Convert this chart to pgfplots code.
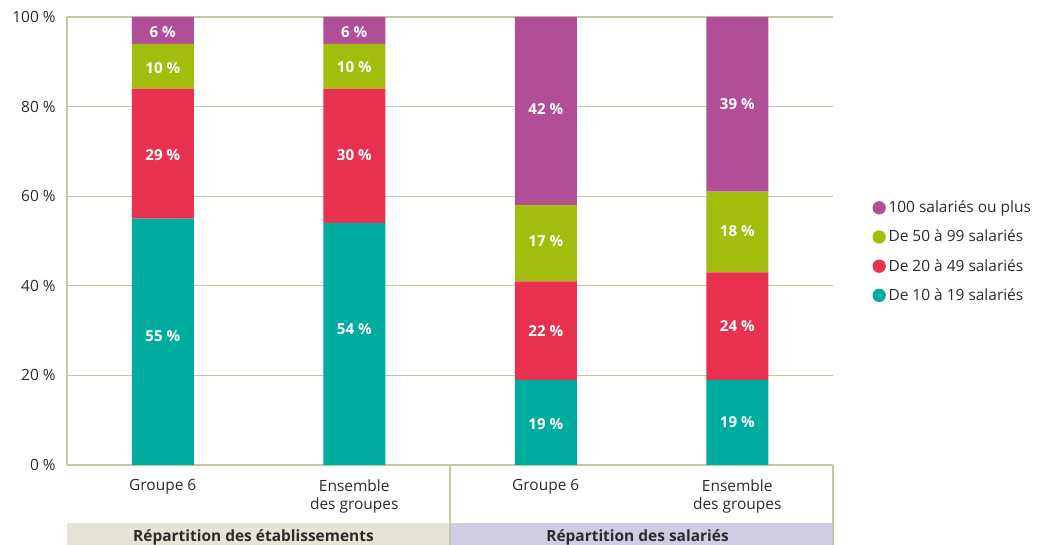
\documentclass[border=0pt]{standalone}
\usepackage{fontspec}
\setmainfont{Open Sans}
\usepackage{pgfplots}
\pgfplotsset{compat=1.18}
\definecolor{cteal}{HTML}{00AC9F}
\definecolor{cred}{HTML}{E8304F}
\definecolor{cgreen}{HTML}{A3BD0F}
\definecolor{cpurple}{HTML}{B04F98}
\definecolor{cgrid}{HTML}{C8C4A6}
\definecolor{cbandA}{HTML}{E6E3D7}
\definecolor{cbandB}{HTML}{D0CCE2}
\definecolor{ctext}{HTML}{2B2B2B}
\pgfplotsset{
  circ/.style={legend image code/.code={\fill[##1,draw=none] (0.3em,0pt) circle (5pt);}},
  common/.style={at={(50.25pt,60pt)}, anchor=south west, scale only axis,
    width=574.5pt, height=336pt, xmin=-0.5, xmax=3.5, ymin=0, ymax=100},
}
\begin{document}
\begin{tikzpicture}[x=0.75pt,y=0.75pt]
\useasboundingbox (0,0) rectangle (1050,545);
\clip (0,0) rectangle (1050,545);
\fill[cbandA] (67,-5) rectangle (450,22);
\fill[cbandB] (450,-5) rectangle (833,22);
\draw[cgrid, line width=1pt] (450,80) -- (450,-5) (833,80) -- (833,-5);
\node[anchor=base, font=\fontsize{11.6}{13}\bfseries, text=ctext] at (253.5,3) {Répartition des établissements};
\node[anchor=base, font=\fontsize{11.6}{13}\bfseries, text=ctext] at (637.5,3) {Répartition des salariés};
\begin{axis}[common,
  ybar stacked, bar width=46.5pt,
  xtick={0,1,2,3},
  xticklabels={Groupe 6, Ensemble\\des groupes, Groupe 6, Ensemble\\des groupes},
  xticklabel style={align=center, font=\fontsize{11.6}{13.6}\selectfont, text=ctext, yshift=-7.5pt},
  ytick={0,20,...,100},
  yticklabel={\pgfmathprintnumber{\tick}~\%},
  yticklabel style={font=\fontsize{11.6}{13}\selectfont, text=ctext, xshift=-5pt},
  /pgf/number format/assume math mode=true,
  major tick length=0pt,
  axis lines*=left,
  axis line style={cgrid, line width=1pt, -},
  ymajorgrids, major grid style={cgrid, line width=1pt},
  legend style={at={(1.046,0.602)}, anchor=north west, draw=none, fill=none,
    font=\fontsize{11.6}{13}\selectfont, text=ctext, row sep=7.5pt},
  legend cell align=left,
  reverse legend,
]
\addplot[fill=cteal, draw=none, circ] coordinates {(0,55) (1,54) (2,19) (3,19)};
\addplot[fill=cred, draw=none, circ] coordinates {(0,29) (1,30) (2,22) (3,24)};
\addplot[fill=cgreen, draw=none, circ] coordinates {(0,10) (1,10) (2,17) (3,18)};
\addplot[fill=cpurple, draw=none, circ] coordinates {(0,6) (1,6) (2,42) (3,39)};
\legend{De 10 à 19 salariés, De 20 à 49 salariés, De 50 à 99 salariés, 100 salariés ou plus}
\end{axis}
\begin{axis}[common, hide axis]
\addplot[draw=none, mark=none, nodes near coords, point meta=explicit symbolic,
  nodes near coords style={anchor=center, text=white, font=\fontsize{11.3}{12}\bfseries}]
  coordinates {
  (0,28.8)[55 \%] (0,69.2)[29 \%] (0,88.6)[10 \%] (0,96.7)[6 \%]
  (1,30.4)[54 \%] (1,69.2)[30 \%] (1,88.8)[10 \%] (1,96.7)[6 \%]
  (2,9.2)[19 \%] (2,29.9)[22 \%] (2,50.0)[17 \%] (2,79.5)[42 \%]
  (3,9.6)[19 \%] (3,31.0)[24 \%] (3,52.2)[18 \%] (3,80.6)[39 \%]
  };
\end{axis}
\end{tikzpicture}
\end{document}
